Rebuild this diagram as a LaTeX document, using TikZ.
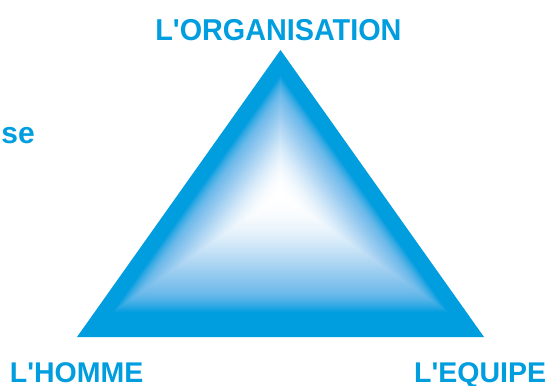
\documentclass[tikz,border=0pt]{standalone}
\usepackage{fontspec}
\setmainfont{Liberation Sans}
\usetikzlibrary{calc}
\definecolor{tri}{RGB}{0,157,223}
\definecolor{lav}{RGB}{120,160,230}
\newcommand{\ap}{\textquotesingle}
\begin{document}
\begin{tikzpicture}[x=1pt,y=-1pt,
  lab/.style={text=tri,font=\fontsize{28.5}{30}\selectfont\bfseries,inner sep=0pt}]
\useasboundingbox (0,0) rectangle (547,386);
\coordinate (A) at (280.5,50);
\coordinate (B) at (77,337);
\coordinate (C) at (484,337);
\coordinate (P) at (280.5,195);
\foreach \i in {0,...,130}{
  \pgfmathsetmacro\t{1-\i/130}
  \pgfmathsetmacro\pc{\t>0.83 ? 100 : (\t>0.7 ? 60+(\t-0.7)/0.13*40 : 60*(\t/0.7)^2.3)}
  \pgfmathsetmacro\w{100-120*(\pc/100)*(1-\pc/100)}
  \fill[tri!\pc!white!\w!lav] ($(P)!\t!(A)$) -- ($(P)!\t!(B)$) -- ($(P)!\t!(C)$) -- cycle;
}
\node[lab,anchor=base] (org) at (278.4,40) {\scalebox{1.01}[1.06]{L\ap ORGANISATION}};
\node[lab,anchor=base west,text depth=0pt] (hom) at (9.7,382) {L\ap HOMME};
\node[lab,anchor=base west,text depth=0pt] (equ) at (414,382) {L\ap EQUIPE};
\node[lab,anchor=base east,font=\fontsize{30}{32}\selectfont\bfseries] (se) at (35,143) {se};
\end{tikzpicture}
\end{document}
